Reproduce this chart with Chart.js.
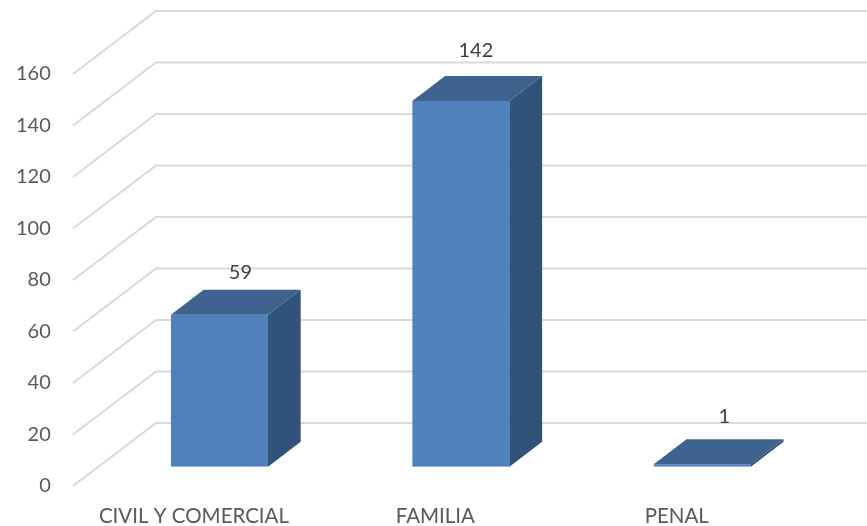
<!DOCTYPE html>
<html>
<head>
<meta charset="utf-8">
<script src="https://cdn.jsdelivr.net/npm/chart.js@4"></script>
<style>
  html, body { margin: 0; padding: 0; background: #fff; }
  canvas { display: block; }
</style>
</head>
<body>
<canvas id="chart" width="867" height="526"></canvas>
<script>
const categories = ['CIVIL Y COMERCIAL', 'FAMILIA', 'PENAL'];
const values = [59, 142, 1];
const yMax = 160;
const yStep = 20;

const FONT = 'Lato, sans-serif';
const FONT_SIZE = 20;

// box depth of the bars and offsets of the walls, relative to the bar front plane
const barDepth = { x: 32.7, y: 25 };
const wallBack = { x: 156, y: -43.7 };
const wallFront = { x: 73, y: 19.3 };
const labelShift = [21, 15, 22];
const labelLift = [42, 51, 48];

const walls = {
    id: 'walls',
    beforeDatasetsDraw(chart) {
        const ctx = chart.ctx;
        const y = chart.scales.y;
        ctx.save();
        ctx.strokeStyle = '#d9d9d9';
        ctx.lineWidth = 2;
        y.ticks.forEach(t => {
            const py = y.getPixelForValue(t.value);
            ctx.beginPath();
            ctx.moveTo(wallFront.x, py + wallFront.y);
            ctx.lineTo(wallBack.x, py + wallBack.y);
            ctx.lineTo(chart.width, py + wallBack.y);
            ctx.stroke();
        });
        ctx.restore();
    }
};

const boxFaces = {
    id: 'boxFaces',
    afterDatasetsDraw(chart) {
        const ctx = chart.ctx;
        const meta = chart.getDatasetMeta(0);
        ctx.save();
        meta.data.forEach((bar, i) => {
            const left = bar.x - bar.width / 2;
            const right = bar.x + bar.width / 2;
            const top = bar.y;
            const base = bar.base;

            // top face
            ctx.fillStyle = '#3e638f';
            ctx.beginPath();
            ctx.moveTo(left, top);
            ctx.lineTo(left + barDepth.x, top - barDepth.y);
            ctx.lineTo(right + barDepth.x, top - barDepth.y);
            ctx.lineTo(right, top);
            ctx.closePath();
            ctx.fill();

            // side face
            ctx.fillStyle = '#315379';
            ctx.beginPath();
            ctx.moveTo(right, top);
            ctx.lineTo(right + barDepth.x, top - barDepth.y);
            ctx.lineTo(right + barDepth.x, base - barDepth.y);
            ctx.lineTo(right, base);
            ctx.closePath();
            ctx.fill();

            // value label
            ctx.fillStyle = '#404040';
            ctx.font = FONT_SIZE + 'px ' + FONT;
            ctx.textAlign = 'center';
            ctx.textBaseline = 'middle';
            ctx.fillText(values[i], bar.x + labelShift[i], top - labelLift[i]);
        });
        ctx.restore();
    }
};

// the scales otherwise reserve room for half a tick label around the chart area
function dropMargins(scale) {
    scale.paddingTop = 0;
    scale.paddingBottom = 0;
    scale.paddingLeft = 0;
    scale.paddingRight = 0;
}

new Chart(document.getElementById('chart').getContext('2d'), {
    type: 'bar',
    data: {
        labels: categories,
        datasets: [{
            data: values,
            backgroundColor: '#4f81bd',
            borderWidth: 0,
            barPercentage: 1,
            categoryPercentage: 0.402
        }]
    },
    options: {
        responsive: false,
        animation: false,
        layout: { padding: { top: 54.7, right: 44, left: 0, bottom: 0 } },
        plugins: { legend: { display: false }, tooltip: { enabled: false } },
        scales: {
            x: {
                grid: { display: false, drawTicks: false },
                border: { display: false },
                ticks: {
                    color: '#595959',
                    font: { family: FONT, size: 20.5 },
                    padding: 37,
                    labelOffset: -25.5,
                    maxRotation: 0
                },
                afterFit(scale) {
                    scale.height = 59.3;
                    dropMargins(scale);
                }
            },
            y: {
                min: 0,
                max: yMax,
                grid: { display: false, drawTicks: false },
                border: { display: false },
                ticks: {
                    stepSize: yStep,
                    color: '#595959',
                    font: { family: FONT, size: FONT_SIZE },
                    padding: 48,
                    labelOffset: 19
                },
                afterFit(scale) {
                    scale.width = 98.75;
                    dropMargins(scale);
                }
            }
        }
    },
    plugins: [walls, boxFaces]
});
</script>
</body>
</html>
